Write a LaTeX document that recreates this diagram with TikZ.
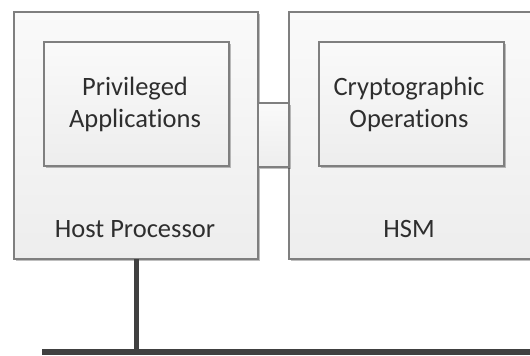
\documentclass[tikz,border=0pt]{standalone}
\usepackage{fontspec}
\setmainfont[Ligatures=NoCommon]{Carlito}
\usetikzlibrary{shadows}
\definecolor{boxline}{HTML}{7F7F7F}
\definecolor{busline}{HTML}{404040}
\begin{document}
\begin{tikzpicture}[x=1pt,y=-1pt,
  panel/.style={draw=boxline,line width=1.5pt,top color=white!98!black,bottom color=white!93!black,
    drop shadow={shadow xshift=2pt,shadow yshift=-2pt,opacity=0.25,fill=black}},
  label/.style={font=\fontsize{26.5}{32}\selectfont,text=black!82,align=center,inner sep=0pt},
  bus/.style={draw=busline,line width=5pt}]
\clip (0,0) rectangle (530,356);
\fill[white] (0,0) rectangle (530,356);
\draw[panel] (14,12) rectangle (258,259);
\draw[panel] (289,12) rectangle (545,259);
\draw[panel] (258,103) rectangle (289,167);
\draw[panel] (44,42) rectangle (229,166);
\draw[panel] (319,42) rectangle (504,166);
\node[label,anchor=base] (apps) at (135,127) {Privileged\\Applications};
\node[label,anchor=base] (crypto) at (409,127) {Cryptographic\\Operations};
\node[label,anchor=base] (host) at (135,237) {Host Processor};
\node[label,anchor=base] (hsm) at (409,237) {HSM};
\coordinate (hostbot) at (136,259);
\coordinate (busl) at (42,352);
\coordinate (busr) at (535,352);
\coordinate (junction) at (136,352);
\draw[bus] (hostbot) -- (junction);
\draw[bus,line width=6pt] (busl) -- (busr);
\end{tikzpicture}
\end{document}
